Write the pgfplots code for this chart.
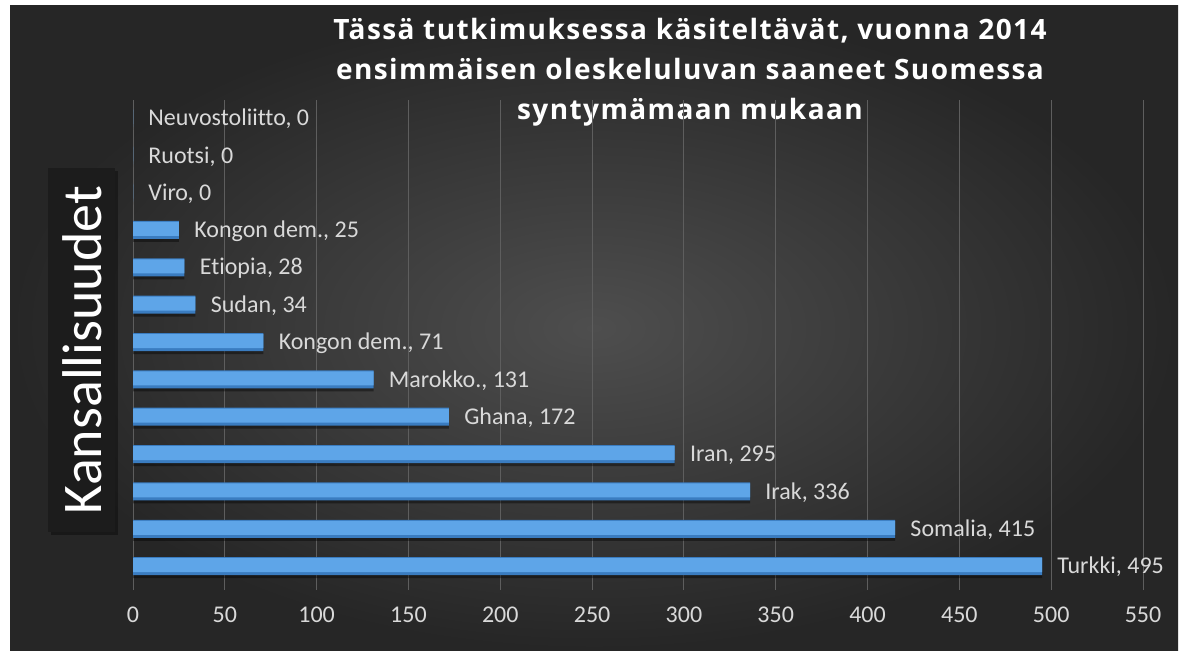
\documentclass[border=0pt]{standalone}
\usepackage{fontspec}
\setmainfont{Carlito}[Ligatures=NoCommon]
\newfontfamily\titlefont[LetterSpace=5]{Open Sans}
\usepackage{pgfplots}
\pgfplotsset{compat=1.18}
\definecolor{bgin}{HTML}{4E4E4E}
\definecolor{bgout}{HTML}{262626}
\definecolor{bartop}{HTML}{5EA5E8}
\definecolor{barbot}{HTML}{3A7CC0}
\definecolor{lbl}{HTML}{D9D9D9}
\definecolor{gridc}{HTML}{5E5E5E}
\definecolor{boxc}{HTML}{1C1C1C}
\pgfplotstableread[col sep=semicolon]{
x;y;lab
495;0;Turkki, 495
415;1;Somalia, 415
336;2;Irak, 336
295;3;Iran, 295
172;4;Ghana, 172
131;5;Marokko., 131
71;6;Kongon dem., 71
34;7;Sudan, 34
28;8;Etiopia, 28
25;9;Kongon dem., 25
0;10;Viro, 0
0;11;Ruotsi, 0
0;12;Neuvostoliitto, 0
}\datatab
\begin{document}
\begin{tikzpicture}
\path[use as bounding box, fill=white] (0,0) rectangle (593pt,327.5pt);
\shade[inner color=bgin, outer color=bgout] (5pt,2.5pt) rectangle (589pt,324.5pt);
\node[align=center, text=white, font=\titlefont\bfseries\fontsize{14}{20}\selectfont] at (345pt,291.5pt)
  {Tässä tutkimuksessa käsiteltävät, vuonna 2014\\ensimmäisen oleskeluluvan saaneet Suomessa\\syntymämaan mukaan};
\fill[black, opacity=0.35] (25.5pt,60pt) rectangle (59pt,242pt);
\fill[boxc] (24pt,61.5pt) rectangle (57.5pt,243.5pt);
\node[rotate=90, text=white, font=\fontsize{28}{30}\selectfont] at (41pt,152.5pt) {Kansallisuudet};
\begin{axis}[
  at={(66.5pt,32.5pt)}, anchor=south west,
  scale only axis, width=505pt, height=245pt,
  xmin=0, xmax=550, ymin=-0.64, ymax=12.48,
  xtick={0,50,...,550}, ytick=\empty,
  xmajorgrids, major grid style={gridc, line width=0.5pt},
  axis line style={draw=none}, tick style={draw=none},
  /pgf/number format/assume math mode=true,
  xticklabel style={text=lbl, font=\fontsize{12}{14}\selectfont, yshift=-5pt},
  clip=false,
]
\addplot[xbar, bar width=9pt, bar shift=-1.5pt, draw=none, fill=black, fill opacity=0.4] table[x=x, y=y] {\datatab};
\addplot[xbar, bar width=9pt, bar shift=0pt, draw=none, fill=barbot] table[x=x, y=y] {\datatab};
\addplot[xbar, bar width=7pt, bar shift=0.5pt, draw=none, fill=bartop,
  point meta=explicit symbolic, nodes near coords,
  every node near coord/.append style={anchor=west, inner sep=0pt, xshift=7.5pt, yshift=-0.5pt, text=lbl, font=\fontsize{12}{14}\selectfont}]
  table[x=x, y=y, meta=lab] {\datatab};
\end{axis}
\end{tikzpicture}
\end{document}
